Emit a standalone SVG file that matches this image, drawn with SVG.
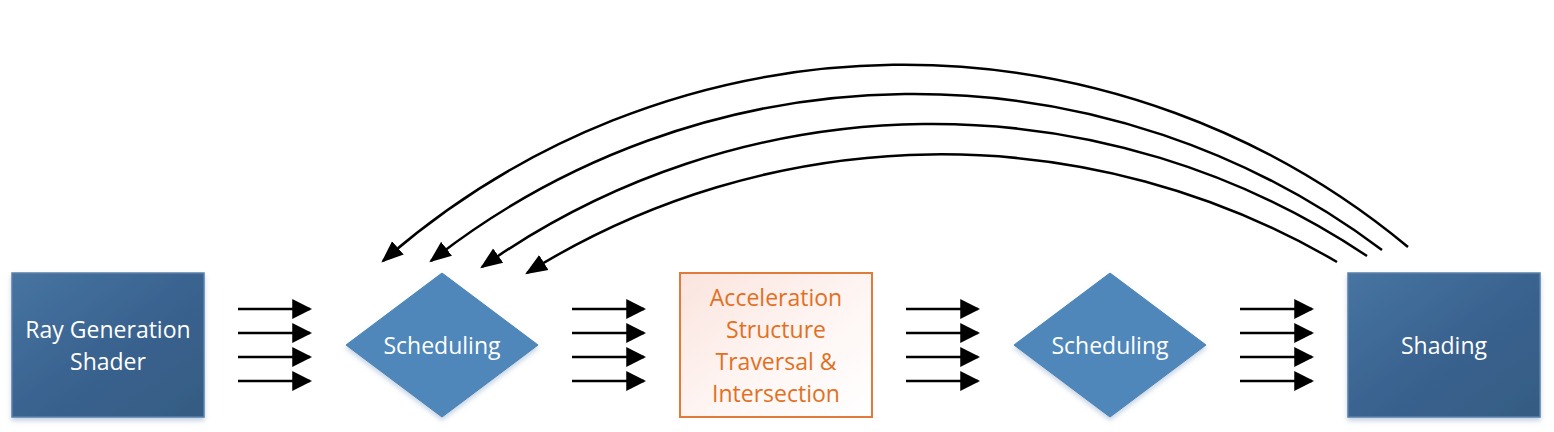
<svg xmlns="http://www.w3.org/2000/svg" width="1554" height="432" viewBox="0 0 1554 432">
<style>
  .lbl { font-family: "Open Sans", "Liberation Sans", sans-serif; font-size: 23px; fill: #ffffff; text-anchor: middle; dominant-baseline: central; }
  .olbl { font-family: "Open Sans", "Liberation Sans", sans-serif; font-size: 23px; fill: #e2701f; text-anchor: middle; dominant-baseline: central; }
  .box { fill: url(#boxGrad); stroke: #5a80a8; stroke-width: 1.5; filter: url(#shadow); }
  .dia { fill: #4f87ba; stroke: #4a82b4; stroke-width: 1; filter: url(#shadow); }
  .obox { fill: url(#oGrad); stroke: #e07b39; stroke-width: 2; }
  .conn { fill: none; stroke: #000000; stroke-width: 2.5; }
  .fb { marker-end: url(#headCurve); }
  .st { marker-end: url(#head); }
</style>
<defs>
  <linearGradient id="boxGrad" x1="0" y1="0" x2="1" y2="1">
    <stop offset="0" stop-color="#4774a2"/>
    <stop offset="0.5" stop-color="#3a6390"/>
    <stop offset="1" stop-color="#355c82"/>
  </linearGradient>
  <linearGradient id="oGrad" x1="0" y1="0" x2="1" y2="1">
    <stop offset="0" stop-color="#fbe4de"/>
    <stop offset="0.6" stop-color="#fef7f5"/>
    <stop offset="1" stop-color="#ffffff"/>
  </linearGradient>
  <filter id="shadow" x="-10%" y="-10%" width="120%" height="125%">
    <feGaussianBlur in="SourceAlpha" stdDeviation="2.5"/>
    <feOffset dx="0" dy="3" result="b"/>
    <feFlood flood-color="#7a9cc0" flood-opacity="0.45"/>
    <feComposite in2="b" operator="in" result="s"/>
    <feMerge><feMergeNode in="s"/><feMergeNode in="SourceGraphic"/></feMerge>
  </filter>
  <marker id="head" markerUnits="userSpaceOnUse" markerWidth="20" markerHeight="20" viewBox="0 0 18 18" refX="16" refY="9" orient="auto">
    <path d="M0,0 L18,9 L0,18 Z" fill="#000"/>
  </marker>
  <marker id="headCurve" markerUnits="userSpaceOnUse" markerWidth="22" markerHeight="22" viewBox="0 0 20 20" refX="18" refY="10" orient="auto">
    <path d="M0,2 L20,10 L0,18 Z" fill="#000"/>
  </marker>
</defs>

<g id="connectors">
  <g id="arrows-1">
    <line class="conn st" x1="238" y1="309" x2="310" y2="309"/>
    <line class="conn st" x1="238" y1="333" x2="310" y2="333"/>
    <line class="conn st" x1="238" y1="357" x2="310" y2="357"/>
    <line class="conn st" x1="238" y1="381" x2="310" y2="381"/>
  </g>
  <g id="arrows-2">
    <line class="conn st" x1="572" y1="309" x2="644" y2="309"/>
    <line class="conn st" x1="572" y1="333" x2="644" y2="333"/>
    <line class="conn st" x1="572" y1="357" x2="644" y2="357"/>
    <line class="conn st" x1="572" y1="381" x2="644" y2="381"/>
  </g>
  <g id="arrows-3">
    <line class="conn st" x1="906" y1="309" x2="978" y2="309"/>
    <line class="conn st" x1="906" y1="333" x2="978" y2="333"/>
    <line class="conn st" x1="906" y1="357" x2="978" y2="357"/>
    <line class="conn st" x1="906" y1="381" x2="978" y2="381"/>
  </g>
  <g id="arrows-4">
    <line class="conn st" x1="1240" y1="309" x2="1312" y2="309"/>
    <line class="conn st" x1="1240" y1="333" x2="1312" y2="333"/>
    <line class="conn st" x1="1240" y1="357" x2="1312" y2="357"/>
    <line class="conn st" x1="1240" y1="381" x2="1312" y2="381"/>
  </g>
  <g id="feedback">
    <path class="conn fb" d="M1408,247 A789,789 0 0 0 383,261"/>
    <path class="conn fb" d="M1382,250 A781,781 0 0 0 431,261"/>
    <path class="conn fb" d="M1367,256 A781,781 0 0 0 482,267"/>
    <path class="conn fb" d="M1337,262 A782,782 0 0 0 527,273"/>
  </g>
</g>

<g id="node-raygen">
  <rect class="box" x="12" y="273" width="192" height="144"/>
  <text class="lbl" x="108" y="329">Ray Generation</text>
  <text class="lbl" x="108" y="361">Shader</text>
</g>

<g id="node-scheduling-1">
  <polygon class="dia" points="442,273 538,345 442,417 346,345"/>
  <text class="lbl" x="442" y="345">Scheduling</text>
</g>

<g id="node-traversal">
  <rect class="obox" x="680" y="273" width="192" height="144"/>
  <text class="olbl" x="776" y="297">Acceleration</text>
  <text class="olbl" x="776" y="329">Structure</text>
  <text class="olbl" x="776" y="361">Traversal &amp;</text>
  <text class="olbl" x="776" y="393">Intersection</text>
</g>

<g id="node-scheduling-2">
  <polygon class="dia" points="1110,273 1206,345 1110,417 1014,345"/>
  <text class="lbl" x="1110" y="345">Scheduling</text>
</g>

<g id="node-shading">
  <rect class="box" x="1348" y="273" width="192" height="144"/>
  <text class="lbl" x="1444" y="345">Shading</text>
</g>
</svg>
